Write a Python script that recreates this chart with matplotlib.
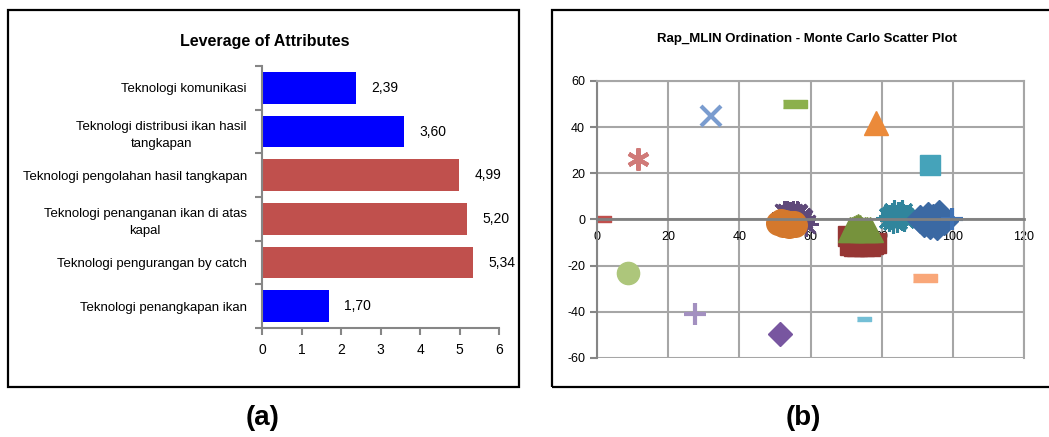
import numpy as np
import matplotlib
matplotlib.use("Agg")
import matplotlib.pyplot as plt
from matplotlib.patches import Rectangle

plt.rcParams['font.family'] = ['Liberation Sans', 'DejaVu Sans']
plt.rcParams['axes.unicode_minus'] = False

# (a) leverage of attributes, bottom to top
attributes = ["Teknologi penangkapan ikan",
              "Teknologi pengurangan by catch",
              "Teknologi penanganan ikan di atas\nkapal",
              "Teknologi pengolahan hasil tangkapan",
              "Teknologi distribusi ikan hasil\ntangkapan",
              "Teknologi komunikasi"]
leverage = [1.70, 5.34, 5.20, 4.99, 3.60, 2.39]
bar_colors = ['#0000FF', '#C0504D', '#C0504D', '#C0504D', '#0000FF', '#0000FF']

# (b) Monte Carlo scatter: reference points
ref_x = [1.3, 99.7, 55.7, 51.4, 32.0, 11.6, 78.3, 93.6, 8.6, 27.6, 74.9, 92.1]
ref_y = [0.0, 0.0, 50.2, -49.7, 45.0, 26.0, 41.7, 23.6, -23.3, -41.0, -43.2, -25.5]

# Monte Carlo clusters
pur_x = [52.6, 53.4, 54.2, 55.0, 55.8, 56.6, 57.3, 58.0, 58.6, 54.6, 56.2, 57.6]
pur_y = [2.6, 3.0, 2.2, 2.8, 1.6, 2.4, 1.0, 0.2, -1.8, 1.8, 3.0, -0.6]
org_x = [51.0, 51.6, 52.2, 52.9, 53.5, 54.1, 54.7, 55.3, 55.6, 52.5, 54.0]
org_y = [-1.4, -0.8, -2.2, -1.0, -2.4, -1.6, -2.0, -1.4, -2.2, -1.6, -2.8]
red_x = [70.6, 71.4, 72.3, 73.2, 74.1, 75.0, 75.9, 76.8, 77.7, 78.5, 71.0, 74.5]
red_y = [-7.3, -9.5, -11.4, -11.6, -11.2, -11.5, -11.0, -11.4, -10.8, -10.3, -11.0, -9.0]
grn_x = [71.0, 71.6, 72.3, 72.9, 73.3, 73.9, 74.6, 75.3, 76.0, 76.6]
grn_y = [-4.2, -4.0, -3.6, -3.2, -3.0, -3.4, -4.0, -4.2, -4.0, -4.3]
teal_x = [82.0, 82.8, 83.5, 84.2, 84.9, 85.6, 86.3, 83.1, 84.6, 85.9]
teal_y = [0.6, 1.4, 2.6, 0.2, 1.8, 2.8, 0.8, -0.2, 2.0, 1.2]
dia_x = [90.8, 91.8, 92.8, 93.6, 94.4, 95.2, 96.0, 96.8, 97.4, 93.0, 95.6]
dia_y = [0.4, -1.4, -0.2, -2.6, 0.6, -1.8, 2.4, 0.8, -0.6, 1.4, -2.8]

fig = plt.figure(figsize=(10.49, 4.37), dpi=100)

# panel frames
for x0, w in [(0.0076, 0.4872), (0.5262, 0.49)]:
    fig.add_artist(Rectangle((x0, 0.1144), w, 0.8627, transform=fig.transFigure,
                             fill=False, edgecolor='black', linewidth=1.6))

# ---- (a) bar chart ----
ax1 = fig.add_axes([0.2498, 0.2494, 0.2259, 0.5995])
y = np.arange(len(attributes))
ax1.barh(y, leverage, height=0.72, color=bar_colors)
for yi, v in zip(y, leverage):
    ax1.annotate(f"{v:.2f}".replace('.', ','), (v, yi), xytext=(11, 0),
                 textcoords='offset points', va='center', fontsize=10)
ax1.set_xlim(0, 6)
ax1.set_ylim(-0.5, 5.5)
ax1.set_xticks(range(7))
ax1.set_yticks(y)
ax1.set_yticklabels(attributes, fontsize=9.5, multialignment='center', linespacing=1.5)
ax1.set_yticks(np.arange(-0.5, 6, 1), minor=True)
ax1.tick_params(axis='y', which='major', length=0, pad=11)
ax1.tick_params(axis='y', which='minor', length=5, color='#868686', width=1.5)
ax1.tick_params(axis='x', length=5, color='#868686', width=1.5, labelsize=10, pad=6)
for s in ['top', 'right']:
    ax1.spines[s].set_visible(False)
for s in ['left', 'bottom']:
    ax1.spines[s].set_color('#868686')
    ax1.spines[s].set_linewidth(1.5)
fig.text(0.2526, 0.906, "Leverage of Attributes", ha='center', va='center',
         fontsize=11.5, fontweight='bold')

# ---- (b) scatter ----
ax2 = fig.add_axes([0.5691, 0.1808, 0.4071, 0.6339])
ax2.set_xlim(0, 120)
ax2.set_ylim(-60, 60)
ax2.set_xticks(range(0, 121, 20))
ax2.set_yticks(range(-60, 61, 20))
ax2.grid(True, color='#A6A6A6', linewidth=1.5)
ax2.set_axisbelow(True)
for s in ['top', 'right']:
    ax2.spines[s].set_color('#A6A6A6')
    ax2.spines[s].set_linewidth(1.5)
ax2.spines['left'].set_color('#868686')
ax2.spines['left'].set_linewidth(1.5)
ax2.spines['bottom'].set_position(('data', 0))
ax2.spines['bottom'].set_color('#808080')
ax2.spines['bottom'].set_linewidth(2)
ax2.tick_params(axis='y', length=5, color='#868686', width=1.5, labelsize=9)
ax2.tick_params(axis='x', length=0, labelsize=9, pad=8)

rect = [(-3, -1), (3, -1), (3, 1), (-3, 1)]
ref_styles = [
    dict(marker=rect, ms=13, color='#C0504D'),
    dict(marker='+', ms=16, mew=3, color='#3F72B5'),
    dict(marker=rect, ms=17, color='#8CB04D'),
    dict(marker='D', ms=12, color='#7856A0'),
    dict(marker='x', ms=14, mew=3, color='#7A9CCF'),
    dict(marker=(6, 2, 0), ms=16, mew=3, color='#D07A78'),
    dict(marker='^', ms=17, color='#EB8A3A'),
    dict(marker='s', ms=15, color='#45A3BA'),
    dict(marker='o', ms=16, color='#ADC67B'),
    dict(marker='+', ms=16, mew=3, color='#A390C0'),
    dict(marker=rect, ms=10, color='#74BFD6'),
    dict(marker=rect, ms=17, color='#F9A779'),
]

ax2.plot(pur_x, pur_y, ls='none', marker=(8, 2, 0), ms=18, mew=2, color='#5F497A')
ax2.plot(org_x, org_y, ls='none', marker='o', ms=17, color='#D4782C')
ax2.plot(red_x, red_y, ls='none', marker='s', ms=15, color='#963634')
ax2.plot(grn_x, grn_y, ls='none', marker='^', ms=18, color='#76923C')
ax2.plot(teal_x, teal_y, ls='none', marker=(8, 2, 0), ms=19, mew=2.2, color='#31859C')
ax2.plot(dia_x, dia_y, ls='none', marker='D', ms=14, color='#3B69A3')
for xi, yi, st in zip(ref_x, ref_y, ref_styles):
    ax2.plot([xi], [yi], ls='none', **st)

fig.text(0.769, 0.911, "Rap_MLIN Ordination - Monte Carlo Scatter Plot", ha='center',
         va='center', fontsize=9.5, fontweight='bold')

fig.text(0.2507, 0.043, "(a)", ha='center', va='center', fontsize=20, fontweight='bold')
fig.text(0.7655, 0.043, "(b)", ha='center', va='center', fontsize=20, fontweight='bold')

fig.savefig("out.png", dpi=100)
